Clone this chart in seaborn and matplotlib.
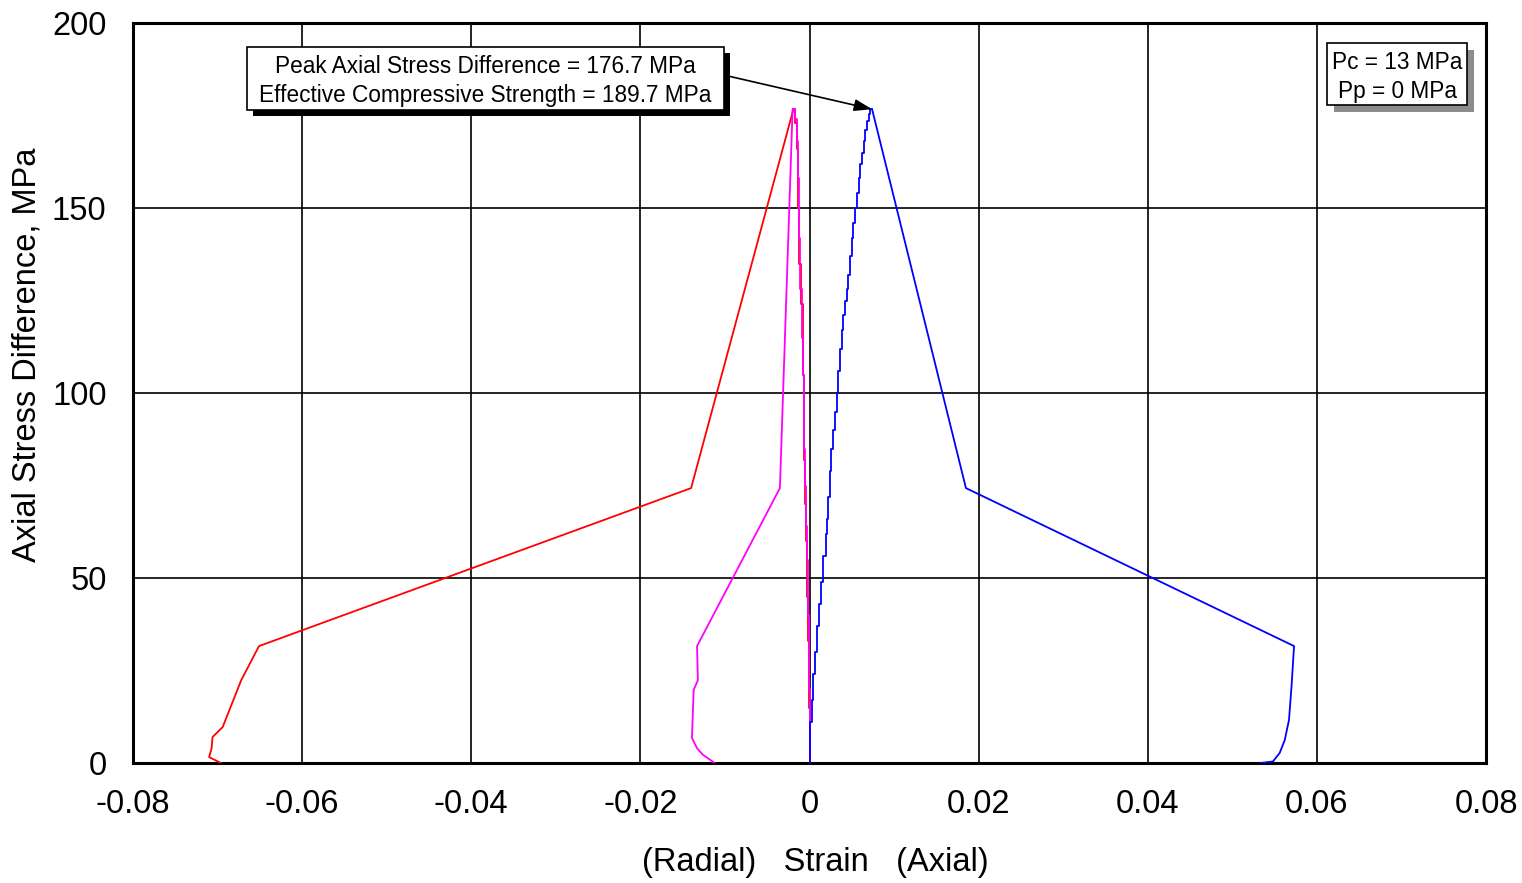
import matplotlib
matplotlib.use("Agg")
import matplotlib.pyplot as plt
import seaborn as sns
import pandas as pd
from matplotlib.patches import Rectangle

# ---- data (strain, axial stress difference MPa) ----
# axial strain (blue) pre-peak (stepped) and post-peak
axial_pre_strain = [0.0, 0.00005, 0.00025, 0.0004, 0.0007, 0.0009, 0.0011, 0.0014, 0.0016,
                    0.0019, 0.0021, 0.0022, 0.0024, 0.0026, 0.0028, 0.0030, 0.0032, 0.0034,
                    0.0036, 0.0038, 0.0040, 0.0042, 0.0044, 0.0046, 0.0048, 0.0050, 0.0052,
                    0.0054, 0.0056, 0.0058, 0.0060, 0.0062, 0.0064, 0.0066, 0.0068, 0.0070,
                    0.0072, 0.0074]
axial_pre_stress = [0.0, 5, 11, 17, 24, 30, 37, 43, 49, 56, 62, 66, 72, 79, 85, 90, 95, 100,
                    106, 112, 117, 121, 125, 128, 132, 137, 142, 146, 150, 154, 158, 162, 165,
                    168, 171, 173.5, 175.5, 176.7]
axial_post_strain = [0.0074, 0.0185, 0.0573, 0.0570, 0.0567, 0.0562, 0.0556, 0.0548, 0.0533]
axial_post_stress = [176.7, 74.3, 31.6, 20.6, 11.6, 6.2, 2.7, 0.4, 0.0]

# radial strain (red)
radial_pre_strain = [0.0, -0.0001, -0.0002, -0.0003, -0.0004, -0.0005, -0.0006, -0.0007,
                     -0.0008, -0.0010, -0.0012, -0.0014, -0.0015, -0.0017, -0.0019]
radial_pre_stress = [0.0, 15, 33, 45, 60, 70, 82, 94, 105, 124, 135, 150, 166, 173, 176.7]
radial_post_strain = [-0.0019, -0.0140, -0.0651, -0.0672, -0.0694, -0.0706, -0.0707, -0.0710,
                      -0.0696]
radial_post_stress = [176.7, 74.3, 31.6, 22.4, 9.7, 7.0, 4.0, 1.6, 0.0]

# volumetric strain (magenta)
vol_pre_strain = [0.0, -0.0001, -0.0002, -0.0003, -0.0004, -0.0005, -0.0006, -0.00065,
                  -0.0008, -0.0009, -0.0011, -0.00125, -0.0014, -0.0015, -0.0017, -0.0020]
vol_pre_stress = [0.0, 20, 40, 55, 64, 75, 85, 93, 105, 115, 128, 142, 158, 168, 174, 176.7]
vol_post_strain = [-0.0020, -0.0035, -0.0133, -0.0132, -0.0137, -0.0139, -0.0133, -0.0126,
                   -0.0112]
vol_post_stress = [176.7, 74.3, 31.6, 22.4, 19.7, 6.8, 4.0, 2.2, 0.0]

peak_strain = 0.0074
peak_stress = 176.7

x_ticks = [-0.08, -0.06, -0.04, -0.02, 0.0, 0.02, 0.04, 0.06, 0.08]
x_labels = ["-0.08", "-0.06", "-0.04", "-0.02", "0", "0.02", "0.04", "0.06", "0.08"]
y_ticks = [0, 50, 100, 150, 200]

sns.set_theme(style="white")
plt.rcParams['font.family'] = ['Liberation Sans', 'DejaVu Sans']

fig = plt.figure(figsize=(15.22, 8.83), dpi=100)
ax = fig.add_axes([133 / 1522, 1 - 763 / 883, 1353 / 1522, 740 / 883])

lw = 1.3
def draw(xs, ys, color, steps=False, z=3):
    df = pd.DataFrame({"x": xs, "y": ys})
    kw = dict(drawstyle="steps-pre") if steps else {}
    sns.lineplot(data=df, x="x", y="y", sort=False, estimator=None, color=color,
                 linewidth=lw, ax=ax, zorder=z, **kw)

draw(radial_pre_strain, radial_pre_stress, "#ff0000", steps=True, z=3)
draw(radial_post_strain, radial_post_stress, "#ff0000", z=3)
draw(vol_pre_strain, vol_pre_stress, "#ff00ff", steps=True, z=4)
draw(vol_post_strain, vol_post_stress, "#ff00ff", z=4)
draw(axial_pre_strain, axial_pre_stress, "#0000ff", steps=True, z=5)
draw(axial_post_strain, axial_post_stress, "#0000ff", z=5)

ax.set_xlim(-0.08, 0.08)
ax.set_ylim(0, 200)
ax.set_xticks(x_ticks)
ax.set_xticklabels(x_labels)
ax.set_yticks(y_ticks)
ax.tick_params(axis="both", length=0, labelsize=23.5, colors="black")
ax.tick_params(axis="x", pad=19)
ax.tick_params(axis="y", pad=19)
ax.grid(True, color="black", linewidth=1.2)
ax.set_axisbelow(True)
for s in ax.spines.values():
    s.set_color("black")
    s.set_linewidth(2.2)
    s.set_visible(True)

ax.set_xlabel("(Radial)   Strain   (Axial)", fontsize=23.5, color="black")
ax.set_ylabel("Axial Stress Difference, MPa", fontsize=23.5, color="black")
ax.xaxis.set_label_coords((815 - 133) / 1353, (763 - 863) / 740)
ax.yaxis.set_label_coords((27 - 133) / 1353, (763 - 355) / 740)
ax.xaxis.label.set_va("center")
ax.yaxis.label.set_va("center")

W, H = 1353.0, 740.0
def box(x0, y0, x1, y1, shadow_color, off):
    ax0 = (x0 - 133) / W
    ax1 = (x1 - 133) / W
    ay0 = (763 - y1) / H
    ay1 = (763 - y0) / H
    sh = Rectangle((ax0 + off / W, ay0 - off / H), ax1 - ax0, ay1 - ay0,
                   transform=ax.transAxes, facecolor=shadow_color, edgecolor="none",
                   zorder=8, clip_on=False)
    bx = Rectangle((ax0, ay0), ax1 - ax0, ay1 - ay0, transform=ax.transAxes,
                   facecolor="white", edgecolor="black", linewidth=1.2, zorder=9,
                   clip_on=False)
    ax.add_patch(sh)
    ax.add_patch(bx)
    return (ax0 + ax1) / 2, (ay0 + ay1) / 2

# annotation box 1 (black shadow)
cx, cy = box(247, 47, 724, 110, "black", 6)
ax.text(cx, cy - 2.5 / H, "Peak Axial Stress Difference = 176.7 MPa\nEffective Compressive Strength = 189.7 MPa",
        transform=ax.transAxes, ha="center", va="center", fontsize=16.3, zorder=10,
        linespacing=1.3, color="black")

# condition box (grey shadow)
cx2, cy2 = box(1327, 43, 1467, 105, "#8c8c8c", 7)
ax.text(cx2, cy2 - 3 / H, "Pc = 13 MPa\nPp = 0 MPa", transform=ax.transAxes, ha="center",
        va="center", fontsize=16.3, zorder=10, linespacing=1.3, color="black")

# arrow from box to peak
ax.annotate("", xy=(peak_strain, peak_stress), xycoords="data",
            xytext=((728 - 133) / W, (763 - 76) / H), textcoords="axes fraction",
            arrowprops=dict(arrowstyle="-|>,head_length=0.9,head_width=0.3", color="black",
                            lw=1.2, shrinkA=0, shrinkB=0), zorder=10)

fig.savefig("out.png", dpi=100)
